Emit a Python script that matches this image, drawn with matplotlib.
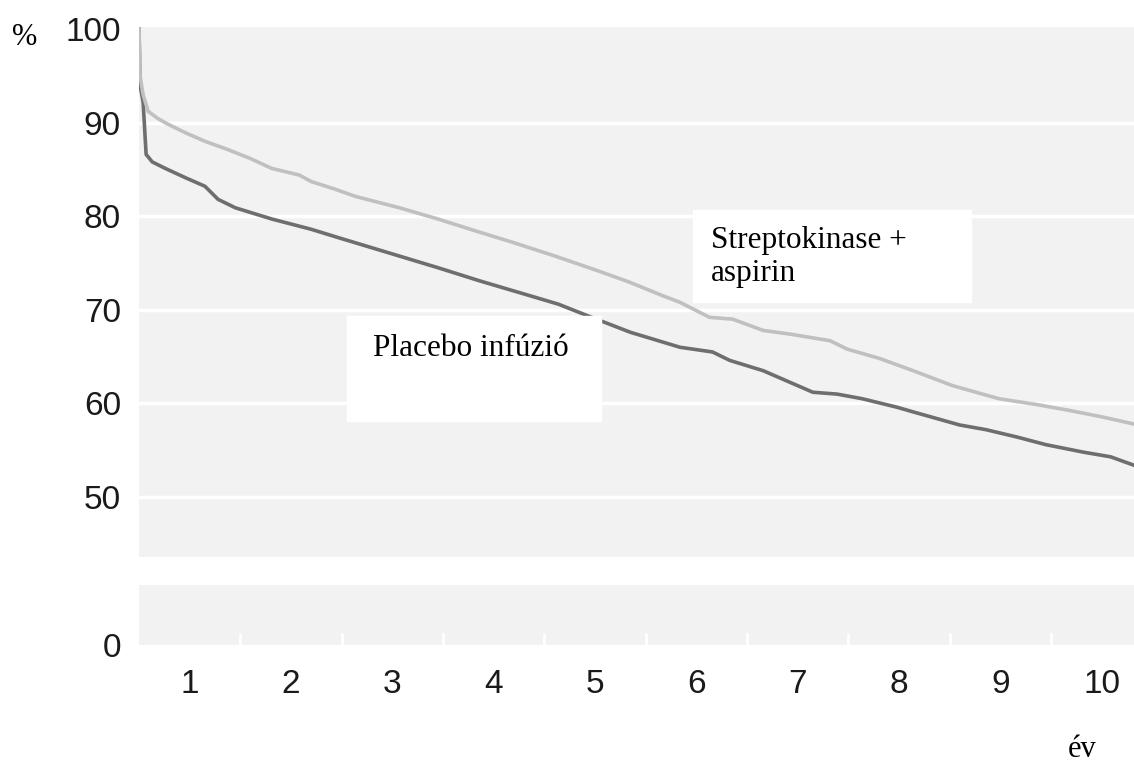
#Curva de sobrevida: Streptokinase + aspirin vs Placebo (eixo quebrado)

import matplotlib.pyplot as plt
import matplotlib.patches as patches
import numpy as np

plt.rcParams['font.family'] = ['Liberation Sans Narrow', 'Liberation Sans', 'DejaVu Sans']

#Dados (anos, %)
ev_strepto = [0, 0.01, 0.04, 0.09, 0.19, 0.29, 0.46, 0.65, 0.88, 1.09, 1.31, 1.58, 1.70, 1.93,
              2.14, 2.57, 2.95, 3.30, 3.69, 4.09, 4.52, 4.83, 5.17, 5.34, 5.63, 5.86, 6.16,
              6.43, 6.82, 6.99, 7.31, 7.64, 8.03, 8.49, 8.85, 9.16, 9.49, 9.82]
pct_strepto = [100, 95, 93, 91.2, 90.4, 89.8, 88.9, 88.0, 87.1, 86.2, 85.1, 84.4, 83.7, 82.9,
               82.1, 80.9, 79.7, 78.5, 77.2, 75.8, 74.2, 73.0, 71.5, 70.8, 69.2, 69.0, 67.8,
               67.4, 66.7, 65.8, 64.8, 63.5, 61.9, 60.5, 59.9, 59.3, 58.6, 57.8]

ev_placebo = [0, 0.01, 0.04, 0.07, 0.13, 0.26, 0.46, 0.65, 0.78, 0.95, 1.31, 1.70, 1.97,
              2.46, 2.95, 3.36, 3.86, 4.14, 4.42, 4.85, 5.34, 5.66, 5.83, 6.16, 6.65, 6.89,
              7.14, 7.48, 7.64, 8.10, 8.36, 8.67, 8.95, 9.32, 9.59, 9.82]
pct_placebo = [100, 94, 92.2, 86.6, 85.8, 85.1, 84.1, 83.2, 81.8, 80.9, 79.7, 78.6, 77.7,
               76.1, 74.5, 73.1, 71.5, 70.6, 69.4, 67.6, 66.0, 65.5, 64.6, 63.5, 61.2, 61.0,
               60.5, 59.6, 59.1, 57.7, 57.2, 56.4, 55.6, 54.8, 54.3, 53.4]

y_ticks = [50, 60, 70, 80, 90, 100]
x_labels = ['1', '2', '3', '4', '5', '6', '7', '8', '9', '10']

fundo = '#f2f2f2'
cor_clara = '#c0c0c0'
cor_escura = '#6e6e6e'

fig = plt.figure(figsize=(11.34, 7.62), dpi=100)

#painel de cima (50-100)
ax = fig.add_axes([0.1226, 0.269, 0.8774, 0.6955])
ax.set_facecolor(fundo)
for s in ax.spines.values():
    s.set_visible(False)
ax.set_xlim(0, 9.82)
ax.set_ylim(43.6, 100.2)
for g in [50, 60, 70, 80, 90]:
    ax.axhline(g, color='white', lw=2.5, zorder=1)
ax.plot(ev_placebo, pct_placebo, color=cor_escura, lw=2.6, zorder=3)
ax.plot(ev_strepto, pct_strepto, color=cor_clara, lw=2.6, zorder=4)
ax.set_yticks(y_ticks)
ax.set_yticklabels([str(v) for v in y_ticks])
ax.set_xticks([])
ax.tick_params(axis='y', length=0, pad=13, labelsize=24, labelcolor='#1a1a1a')

#painel de baixo (0)
ax2 = fig.add_axes([0.1226, 0.1535, 0.8774, 0.0787])
ax2.set_facecolor(fundo)
for s in ax2.spines.values():
    s.set_visible(False)
ax2.set_xlim(0, 9.82)
ax2.set_ylim(0, 6.4)
ax2.set_yticks([0])
ax2.set_yticklabels(['0'])
ax2.set_xticks(np.arange(10) + 0.5)
ax2.set_xticklabels(x_labels)
ax2.set_xticks(np.arange(1, 10), minor=True)
ax2.tick_params(axis='y', length=0, pad=13, labelsize=24, labelcolor='#1a1a1a')
ax2.tick_params(axis='x', which='major', length=0, pad=17, labelsize=24, labelcolor='#1a1a1a')
ax2.tick_params(axis='x', which='minor', direction='in', length=9, width=2, color='white')

#caixas de texto brancas
fig.patches.append(patches.Rectangle((347/1134, 1-421/762), 254/1134, 105/762,
                                     transform=fig.transFigure, color='white', zorder=5))
fig.patches.append(patches.Rectangle((693/1134, 1-302/762), 278/1134, 92/762,
                                     transform=fig.transFigure, color='white', zorder=5))

serif = ['Liberation Serif', 'DejaVu Serif']
fig.text(373/1134, 1-356/762, 'Placebo infúzió', family=serif, fontsize=22.5, va='baseline', zorder=6)
fig.text(711/1134, 1-248/762, 'Streptokinase +', family=serif, fontsize=22.5, va='baseline', zorder=6)
fig.text(711/1134, 1-281/762, 'aspirin', family=serif, fontsize=22.5, va='baseline', zorder=6)
fig.text(12/1134, 1-45/762, '%', family=serif, fontsize=22, va='baseline')
fig.text(1068/1134, 1-757/762, 'év', family=serif, fontsize=22, va='baseline')

plt.savefig('out.png')
